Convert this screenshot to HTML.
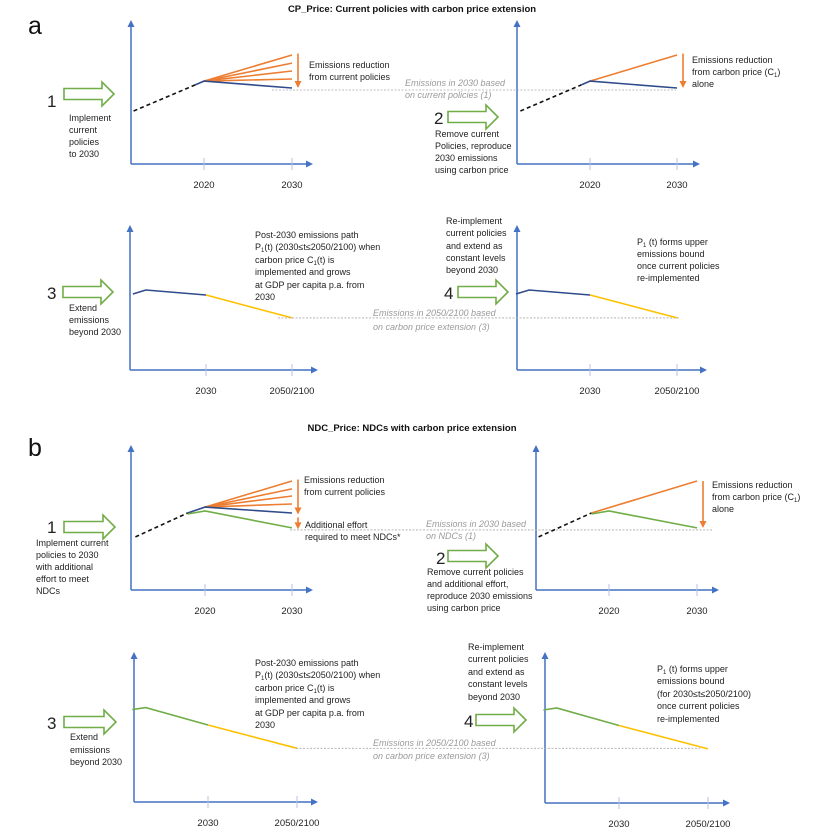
<!DOCTYPE html>
<html><head><meta charset="utf-8">
<style>
html,body{margin:0;padding:0;background:#fff;}
svg{display:block;font-family:"Liberation Sans",sans-serif;}
.t{font-size:9px;fill:#222;}
.g{font-size:9px;fill:#9a9a9a;font-style:italic;}
.n{font-size:17px;fill:#222;}
.tk{font-size:9.5px;fill:#222;}
</style></head>
<body>
<svg id="fig" width="824" height="830" viewBox="0 0 824 830">
<text x="28" y="34" font-size="25" fill="#111">a</text>
<text x="412" y="12" font-size="9.5" font-weight="bold" text-anchor="middle" fill="#111">CP_Price: Current policies with carbon price extension</text>
<text x="28" y="456" font-size="25" fill="#111">b</text>
<text x="412" y="431" font-size="9.5" font-weight="bold" text-anchor="middle" fill="#111">NDC_Price: NDCs with carbon price extension</text>

<!-- a1 texts -->
<text class="n" x="47" y="107">1</text>
<g class="t"><text x="69" y="121">Implement</text><text x="69" y="133">current</text><text x="69" y="145">policies</text><text x="69" y="157">to 2030</text></g>
<g class="t"><text x="309" y="68">Emissions reduction</text><text x="309" y="80">from current policies</text></g>
<g class="g"><text x="405" y="86">Emissions in 2030 based</text><text x="405" y="98">on current policies (1)</text></g>
<!-- a2 texts -->
<text class="n" x="434" y="124">2</text>
<g class="t"><text x="435" y="137">Remove current</text><text x="435" y="149">Policies, reproduce</text><text x="435" y="161">2030 emissions</text><text x="435" y="173">using carbon price</text></g>
<g class="t"><text x="692" y="63">Emissions reduction</text><text x="692" y="75">from carbon price (C<tspan font-size="6" dy="2">1</tspan><tspan dy="-2">)</tspan></text><text x="692" y="87">alone</text></g>
<!-- a3 texts -->
<text class="n" x="47" y="299">3</text>
<g class="t"><text x="69" y="311">Extend</text><text x="69" y="323">emissions</text><text x="69" y="335">beyond 2030</text></g>
<g class="t"><text x="255" y="238">Post-2030 emissions path</text><text x="255" y="250">P<tspan font-size="6" dy="2">1</tspan><tspan dy="-2">(t) (2030≤t≤2050/2100) when</tspan></text><text x="255" y="263">carbon price C<tspan font-size="6" dy="2">1</tspan><tspan dy="-2">(t) is</tspan></text><text x="255" y="275">implemented and grows</text><text x="255" y="288">at GDP per capita p.a. from</text><text x="255" y="300">2030</text></g>
<g class="g"><text x="373" y="316">Emissions in 2050/2100 based</text><text x="373" y="330">on carbon price extension (3)</text></g>
<!-- a4 texts -->
<text class="n" x="444" y="299">4</text>
<g class="t"><text x="446" y="224">Re-implement</text><text x="446" y="236">current policies</text><text x="446" y="249">and extend as</text><text x="446" y="261">constant levels</text><text x="446" y="273">beyond 2030</text></g>
<g class="t"><text x="637" y="245">P<tspan font-size="6" dy="2">1</tspan><tspan dy="-2"> (t) forms upper</tspan></text><text x="637" y="257">emissions bound</text><text x="637" y="269">once current policies</text><text x="637" y="281">re-implemented</text></g>

<!-- b1 texts -->
<text class="n" x="47" y="533">1</text>
<g class="t"><text x="36" y="546">Implement current</text><text x="36" y="558">policies to 2030</text><text x="36" y="570">with additional</text><text x="36" y="582">effort to meet</text><text x="36" y="594">NDCs</text></g>
<g class="t"><text x="304" y="483">Emissions reduction</text><text x="304" y="495">from current policies</text><text x="305" y="528">Additional effort</text><text x="305" y="540">required to meet NDCs*</text></g>
<g class="g"><text x="426" y="527">Emissions in 2030 based</text><text x="426" y="539">on NDCs (1)</text></g>
<!-- b2 texts -->
<text class="n" x="436" y="564">2</text>
<g class="t"><text x="427" y="575">Remove current policies</text><text x="427" y="587">and additional effort,</text><text x="427" y="599">reproduce 2030 emissions</text><text x="427" y="611">using carbon price</text></g>
<g class="t"><text x="712" y="488">Emissions reduction</text><text x="712" y="500">from carbon price (C<tspan font-size="6" dy="2">1</tspan><tspan dy="-2">)</tspan></text><text x="712" y="512">alone</text></g>
<!-- b3 texts -->
<text class="n" x="47" y="729">3</text>
<g class="t"><text x="70" y="740">Extend</text><text x="70" y="753">emissions</text><text x="70" y="765">beyond 2030</text></g>
<g class="t"><text x="255" y="666">Post-2030 emissions path</text><text x="255" y="678">P<tspan font-size="6" dy="2">1</tspan><tspan dy="-2">(t) (2030≤t≤2050/2100) when</tspan></text><text x="255" y="691">carbon price C<tspan font-size="6" dy="2">1</tspan><tspan dy="-2">(t) is</tspan></text><text x="255" y="703">implemented and grows</text><text x="255" y="716">at GDP per capita p.a. from</text><text x="255" y="728">2030</text></g>
<g class="g"><text x="373" y="746">Emissions in 2050/2100 based</text><text x="373" y="759">on carbon price extension (3)</text></g>
<!-- b4 texts -->
<text class="n" x="464" y="727">4</text>
<g class="t"><text x="468" y="650">Re-implement</text><text x="468" y="662">current policies</text><text x="468" y="675">and extend as</text><text x="468" y="687">constant levels</text><text x="468" y="700">beyond 2030</text></g>
<g class="t"><text x="657" y="672">P<tspan font-size="6" dy="2">1</tspan><tspan dy="-2"> (t) forms upper</tspan></text><text x="657" y="684">emissions bound</text><text x="657" y="697">(for 2030≤t≤2050/2100)</text><text x="657" y="709">once current policies</text><text x="657" y="722">re-implemented</text></g>
</svg>
<script>
// ---- data (emission index 0-100 relative to axis height; years) ----
const aHistYears = [2012, 2019];
const aHist = [36.8, 54.9];
const aCurYears = [2019, 2020, 2030];
const aCur = [54.9, 57.6, 52.8];
const aPolicyEnds = [75.7, 70.1, 64.6, 59.0];
const aCarbonEnd = 75.7;
const bHistYears = [2012, 2018];
const bHist = [36.6, 53.1];
const bCurYears = [2018, 2020, 2030];
const bCur = [53.1, 57.2, 53.1];
const bNDC = [52.4, 54.5, 42.8];
const bPolicyEnds = [75.2, 69.7, 64.8, 59.3];
const bCarbonEnd = 75.2;
const extYears = [2013, 2016, 2030];
const aExt = [52.4, 55.2, 51.7];
const bExt = [61.6, 62.9, 51.3];
const extEndYear = 2050;
const aExtEnd = 35.9;
const bExtEnd = 35.8;
const upperTicks = ['2020', '2030'];
const lowerTicks = ['2030', '2050/2100'];

// ---- layout ----
const C = {axis:'#4472c4', dark:'#2f4b8c', orange:'#ed7d31', green:'#70ad47', yellow:'#ffc000', gray:'#aaaaaa'};
const P = {
  a1:{ox:131,oy:164,top:20,right:313,t:[2020,2030],tx:[204,292],lab:upperTicks},
  a2:{ox:517,oy:164,top:20,right:700,t:[2020,2030],tx:[590,677],lab:upperTicks},
  a3:{ox:130,oy:370,top:225,right:318,t:[2030,2050],tx:[206,292],lab:lowerTicks},
  a4:{ox:517,oy:370,top:225,right:707,t:[2030,2050],tx:[590,677],lab:lowerTicks},
  b1:{ox:131,oy:590,top:445,right:313,t:[2020,2030],tx:[205,292],lab:upperTicks},
  b2:{ox:536,oy:590,top:445,right:719,t:[2020,2030],tx:[609,697],lab:upperTicks},
  b3:{ox:134,oy:802,top:652,right:318,t:[2030,2050],tx:[208,297],lab:lowerTicks},
  b4:{ox:545,oy:803,top:652,right:730,t:[2030,2050],tx:[619,708],lab:lowerTicks}
};
const svg = document.getElementById('fig');
const NS = 'http://www.w3.org/2000/svg';
function mk(tag, attrs){const e=document.createElementNS(NS,tag);for(const k in attrs)e.setAttribute(k,attrs[k]);svg.appendChild(e);return e;}
function xs(p,yr){return p.tx[0]+(yr-p.t[0])*(p.tx[1]-p.tx[0])/(p.t[1]-p.t[0]);}
function ys(p,v){return p.oy-v*(p.oy-p.top)/100;}
function line(p,years,vals,color,name,dash){
  const pts=years.map((y,i)=>xs(p,y).toFixed(1)+','+ys(p,vals[i]).toFixed(1)).join(' ');
  const e=mk('polyline',{points:pts,fill:'none',stroke:color,'stroke-width':1.6,'stroke-dasharray':dash||'none'});
  
  
  return e;
}
function axes(key){
  const p=P[key];
  const ya=mk('line',{x1:p.ox,y1:p.oy,x2:p.ox,y2:p.top+6,stroke:C.axis,'stroke-width':1.5});
  
  
  const yh=mk('polygon',{points:`${p.ox-3.5},${p.top+7} ${p.ox+3.5},${p.top+7} ${p.ox},${p.top}`,fill:C.axis});
  
  
  const xa=mk('line',{x1:p.ox,y1:p.oy,x2:p.right-6,y2:p.oy,stroke:C.axis,'stroke-width':1.5});
  
  
  const xh=mk('polygon',{points:`${p.right-7},${p.oy-3.5} ${p.right-7},${p.oy+3.5} ${p.right},${p.oy}`,fill:C.axis});
  
  
  p.t.forEach((yr,i)=>{
    const x=xs(p,yr);
    const tk=mk('line',{x1:x,y1:p.oy-6,x2:x,y2:p.oy+6,stroke:'#b4c3e0','stroke-width':1});
    
    
    const lb=mk('text',{x:x,y:p.oy+24,'text-anchor':'middle',class:'tk'});
    lb.textContent=p.lab[i];
    
    
  });
}
function ref(p,v,x1,x2,name,off){
  const y=ys(p,v)+off;
  const e=mk('line',{x1:x1,y1:y,x2:x2,y2:y,stroke:C.gray,'stroke-width':0.8,'stroke-dasharray':'2,1.5'});
  
  
}
function darrow(p,x,v1,v2,name){
  const y1=ys(p,v1),y2=ys(p,v2);
  const l=mk('line',{x1:x,y1:y1,x2:x,y2:y2-6,stroke:C.orange,'stroke-width':1.6});
  
  
  const h=mk('polygon',{points:`${x-3.5},${y2-7} ${x+3.5},${y2-7} ${x},${y2}`,fill:C.orange});
  
  
}
function garrow(x,y,w,name){
  const hl=12, bt=y-5.5, bb=y+5.5, ht=y-12, hb=y+12;
  const e=mk('polygon',{points:`${x},${bt} ${x+w-hl},${bt} ${x+w-hl},${ht} ${x+w},${y} ${x+w-hl},${hb} ${x+w-hl},${bb} ${x},${bb}`,fill:'#fff',stroke:C.green,'stroke-width':1.6});
  
  
}
Object.keys(P).forEach(axes);

// a1
let p=P.a1;
line(p,aHistYears,aHist,'#111','a1-historical-dashed','4,3');
aPolicyEnds.forEach((v,i)=>line(p,[2020,2030],[aCur[1],v],C.orange,'a1-no-policy-line-'+(i+1)));
line(p,aCurYears,aCur,C.dark,'a1-current-policies-line');
darrow(p,xs(p,2030)+6,aPolicyEnds[0]+1,aCur[2],'a1-reduction-arrow');
ref(p,aCur[2],272,676,'a-2030-reference-line',2);
garrow(64,94,50,'step-1-arrow');
// a2
p=P.a2;
line(p,aHistYears,aHist,'#111','a2-historical-dashed','4,3');
line(p,[2020,2030],[aCur[1],aCarbonEnd],C.orange,'a2-no-policy-line');
line(p,aCurYears,aCur,C.dark,'a2-carbon-price-line');
darrow(p,xs(p,2030)+6,aCarbonEnd+1,aCur[2],'a2-reduction-arrow');
garrow(448,117,50,'step-2-arrow');
// a3
p=P.a3;
line(p,extYears,aExt,C.dark,'a3-pre-2030-line');
line(p,[2030,extEndYear],[aExt[2],aExtEnd],C.yellow,'a3-extension-line');
ref(p,aExtEnd,278,680,'a-2050-reference-line',0);
garrow(63,292,50,'step-3-arrow');
// a4
p=P.a4;
line(p,extYears,aExt,C.dark,'a4-pre-2030-line');
line(p,[2030,extEndYear],[aExt[2],aExtEnd],C.yellow,'a4-extension-line');
garrow(458,292,50,'step-4-arrow');
// b1
p=P.b1;
line(p,bHistYears,bHist,'#111','b1-historical-dashed','4,3');
bPolicyEnds.forEach((v,i)=>line(p,[2020,2030],[bCur[1],v],C.orange,'b1-no-policy-line-'+(i+1)));
line(p,bCurYears,bCur,C.dark,'b1-current-policies-line');
line(p,bCurYears,bNDC,C.green,'b1-ndc-line');
darrow(p,xs(p,2030)+6,bPolicyEnds[0]+1,bCur[2]-1,'b1-reduction-arrow');
darrow(p,xs(p,2030)+6,bCur[2]-3,bNDC[2]-1,'b1-additional-effort-arrow');
ref(p,bNDC[2],290,713,'b-2030-reference-line',2);
garrow(64,527,51,'b-step-1-arrow');
// b2
p=P.b2;
line(p,bHistYears,bHist,'#111','b2-historical-dashed','4,3');
line(p,[2018,2030],[bCur[0],bCarbonEnd],C.orange,'b2-no-policy-line');
line(p,bCurYears,bNDC,C.green,'b2-carbon-price-line');
darrow(p,xs(p,2030)+6,bCarbonEnd,bNDC[2],'b2-reduction-arrow');
garrow(448,556,50,'b-step-2-arrow');
// b3
p=P.b3;
line(p,extYears,bExt,C.green,'b3-pre-2030-line');
line(p,[2030,extEndYear],[bExt[2],bExtEnd],C.yellow,'b3-extension-line');
ref(p,bExtEnd,296,700,'b-2050-reference-line',0);
garrow(64,722,52,'b-step-3-arrow');
// b4
p=P.b4;
line(p,extYears,bExt,C.green,'b4-pre-2030-line');
line(p,[2030,extEndYear],[bExt[2],bExtEnd],C.yellow,'b4-extension-line');
garrow(476,720,50,'b-step-4-arrow');
</script>
</body></html>
